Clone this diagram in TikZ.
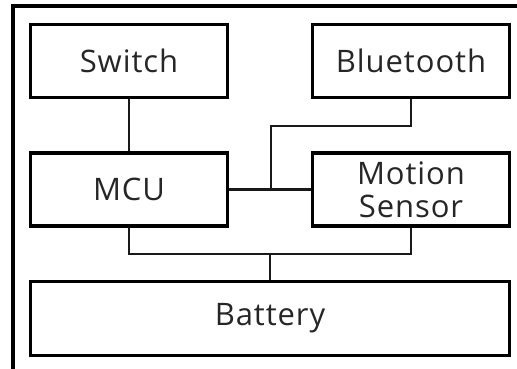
\documentclass[tikz,border=0pt]{standalone}
\usepackage{fontspec}
\setmainfont[LetterSpace=3]{Open Sans}
\usetikzlibrary{positioning}

\begin{document}
\begin{tikzpicture}[
    x=1pt,
    y=-1pt,
    block_style/.style={rectangle, draw, line width=3.2pt, minimum width=197pt, minimum height=73pt, inner sep=0pt, align=center, font=\fontsize{31}{33}\selectfont, text=black!85},
    wide_block/.style={block_style, minimum width=479pt, minimum height=74pt},
    link_style/.style={draw, line width=2.2pt, black!90},
    frame_style/.style={draw, line width=4pt}
]
  \useasboundingbox (0,0) rectangle (517,369);
  % Outer frame, cut off at the right and bottom
  \draw[frame_style] (13,369) -- (13,6.5) -- (517,6.5);
  % Blocks
  \node[block_style] (switch) at (129,61) {Switch};
  \node[block_style] (bluetooth) at (411,61) {Bluetooth};
  \node[block_style] (mcu) at (129,189.5) {MCU};
  \node[block_style] (motion) at (411,189.5) {Motion\\Sensor};
  \node[wide_block] (battery) at (270,318.5) {Battery};
  % Bus junctions
  \coordinate (bt_turn) at (271,126);
  \coordinate (sig_join) at (271,189.5);
  \coordinate (pwr_join) at (270,254);
  % Signal lines
  \draw[link_style] (switch) -- (mcu);
  \draw[link_style] (mcu) -- (motion);
  \draw[link_style] (bluetooth.south) |- (bt_turn) -- (sig_join);
  % Power lines
  \draw[link_style] (mcu.south) |- (pwr_join) -| (motion.south);
  \draw[link_style] (pwr_join) -- (battery.north);
\end{tikzpicture}
\end{document}
